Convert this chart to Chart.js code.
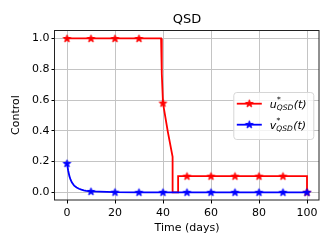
<!DOCTYPE html>
<html>
<head>
<meta charset="utf-8">
<script src="https://cdn.jsdelivr.net/npm/chart.js@4.4.1/dist/chart.umd.min.js"></script>
<style>
  html, body { margin: 0; padding: 0; background: #fff; }
</style>
</head>
<body>
<canvas id="chart" width="332" height="249"></canvas>
<script>
// data
const uTime  = [0, 10, 20, 30, 39.2, 39.5, 40, 42, 44, 44, 46.3, 46.3, 50, 60, 70, 80, 90, 100, 100];
const uValue = [1, 1, 1, 1, 1, 0.77, 0.58, 0.395, 0.23, 0, 0, 0.105, 0.105, 0.105, 0.105, 0.105, 0.105, 0.105, 0];
const vTime  = [0, 0.5, 1, 1.5, 2, 3, 4, 5, 6, 7, 8, 10, 20, 30, 40, 50, 60, 70, 80, 90, 100];
const vValue = [0.188, 0.14, 0.105, 0.082, 0.065, 0.043, 0.031, 0.023, 0.017, 0.013, 0.01, 0.006, 0.001, 0, 0, 0, 0, 0, 0, 0, 0];
const xTicks = [0, 20, 40, 60, 80, 100];
const yTicks = [0, 0.2, 0.4, 0.6, 0.8, 1.0];
const seriesNames = ['u', 'v'];
const seriesColors = ['#ff0000', '#0000ff'];
const chartTitle = 'QSD';

const font = 'DejaVu Sans';

function starImage(color) {
  const c = document.createElement('canvas');
  c.width = 11; c.height = 11;
  const g = c.getContext('2d');
  g.beginPath();
  for (let i = 0; i < 10; i++) {
    const r = i % 2 === 0 ? 4 : 4 * 0.382;
    const a = -Math.PI / 2 + i * Math.PI / 5;
    const px = 5.5 + r * Math.cos(a), py = 5.8 + r * Math.sin(a);
    if (i === 0) g.moveTo(px, py); else g.lineTo(px, py);
  }
  g.closePath();
  g.fillStyle = color;
  g.strokeStyle = color;
  g.lineWidth = 1;
  g.fill();
  g.stroke();
  return c;
}

function toPoints(ts, vs) {
  return ts.map((t, i) => ({ x: t, y: vs[i] }));
}

// marker every 10 days, on the last point that has that time
function markerRadius(ts) {
  return ctx => {
    const i = ctx.dataIndex;
    const t = ts[i];
    if (t % 10 !== 0) return 0;
    if (i + 1 < ts.length && ts[i + 1] === t) return 0;
    return 3;
  };
}

const stars = seriesColors.map(starImage);

const frame = {
  id: 'frame',
  afterDatasetsDraw(chart) {
    const { ctx, chartArea: a } = chart;
    ctx.save();
    ctx.strokeStyle = '#222';
    ctx.lineWidth = 1;
    ctx.strokeRect(Math.round(a.left) - 0.5, Math.round(a.top) + 0.5,
                   Math.round(a.right - a.left) + 0.5, Math.round(a.bottom - a.top) - 0.5);
    ctx.restore();
  }
};

// title centred over the axes, like matplotlib
const axesTitle = {
  id: 'axesTitle',
  afterDraw(chart) {
    const { ctx, chartArea: a } = chart;
    ctx.save();
    ctx.font = '13px ' + font;
    ctx.fillStyle = '#000';
    ctx.textAlign = 'center';
    ctx.textBaseline = 'middle';
    ctx.fillText(chartTitle, (a.left + a.right) / 2, a.top - 10.5);
    ctx.restore();
  }
};

const legendBox = {
  id: 'legendBox',
  afterDraw(chart) {
    const { ctx, chartArea: a } = chart;
    const w = 80, h = 47;
    const x0 = a.right - 5.7 - w;
    const y0 = (a.top + a.bottom) / 2 - h / 2 + 0.5;
    ctx.save();
    ctx.beginPath();
    ctx.roundRect(x0 + 0.5, y0 + 0.5, w, h, 3);
    ctx.fillStyle = 'rgba(255,255,255,0.8)';
    ctx.fill();
    ctx.strokeStyle = '#d6d6d6';
    ctx.lineWidth = 1;
    ctx.stroke();
    seriesNames.forEach((name, i) => {
      const y = y0 + 11.7 + i * 21;
      ctx.strokeStyle = seriesColors[i];
      ctx.lineWidth = 1.8;
      ctx.beginPath();
      ctx.moveTo(x0 + 3.5, y);
      ctx.lineTo(x0 + 28.5, y);
      ctx.stroke();
      ctx.drawImage(stars[i], x0 + 16 - 5.5, y - 5.8);
      ctx.fillStyle = '#000';
      ctx.textBaseline = 'alphabetic';
      ctx.textAlign = 'left';
      let tx = x0 + 36.5;
      ctx.font = 'italic 11px ' + font;
      ctx.fillText(name, tx, y + 4);
      tx += ctx.measureText(name).width;
      ctx.font = '7.5px ' + font;
      ctx.fillText('*', tx + 0.3, y - 1.5);
      ctx.font = 'italic 7.5px ' + font;
      ctx.fillText('QSD', tx, y + 6.5);
      tx += ctx.measureText('QSD').width + 0.5;
      ctx.font = 'italic 11px ' + font;
      ctx.fillText('(t)', tx, y + 4);
    });
    ctx.restore();
  }
};

new Chart(document.getElementById('chart'), {
  type: 'line',
  data: {
    datasets: [
      {
        label: 'u*QSD(t)',
        data: toPoints(uTime, uValue),
        borderColor: seriesColors[0],
        backgroundColor: seriesColors[0],
        borderWidth: 1.8,
        pointStyle: stars[0],
        pointRadius: markerRadius(uTime),
        pointHoverRadius: 0,
        tension: 0,
        order: 1
      },
      {
        label: 'v*QSD(t)',
        data: toPoints(vTime, vValue),
        borderColor: seriesColors[1],
        backgroundColor: seriesColors[1],
        borderWidth: 1.8,
        pointStyle: stars[1],
        pointRadius: markerRadius(vTime),
        pointHoverRadius: 0,
        tension: 0,
        order: 0
      }
    ]
  },
  options: {
    responsive: false,
    animation: false,
    devicePixelRatio: 1,
    layout: { padding: { left: 0, right: 13, top: 30, bottom: 0 } },
    plugins: {
      legend: { display: false },
      tooltip: { enabled: false },
      title: { display: false }
    },
    scales: {
      x: {
        type: 'linear',
        min: -5,
        max: 105,
        afterBuildTicks: s => { s.ticks = xTicks.map(v => ({ value: v })); },
        afterFit: s => { s.height = 49; },
        grid: { color: '#c4c4c4', lineWidth: 1, tickColor: '#000', tickLength: 3.5 },
        border: { display: false },
        ticks: { color: '#000', font: { family: font, size: 11 }, padding: 3, maxRotation: 0 },
        title: {
          display: true, text: 'Time (days)', color: '#000',
          font: { family: font, size: 11 }, padding: { top: 0, bottom: 14.4 }
        }
      },
      y: {
        min: -0.05,
        max: 1.055,
        afterBuildTicks: s => { s.ticks = yTicks.map(v => ({ value: v })); },
        afterFit: s => { s.width = 55; },
        grid: { color: '#c4c4c4', lineWidth: 1, tickColor: '#000', tickLength: 3.5 },
        border: { display: false },
        ticks: {
          color: '#000', font: { family: font, size: 11 }, padding: 2,
          callback: v => v.toFixed(1)
        },
        title: {
          display: true, text: 'Control', color: '#000',
          font: { family: font, size: 11 }, padding: { top: 10, bottom: 0 }
        }
      }
    }
  },
  plugins: [frame, axesTitle, legendBox]
});
</script>
</body>
</html>
